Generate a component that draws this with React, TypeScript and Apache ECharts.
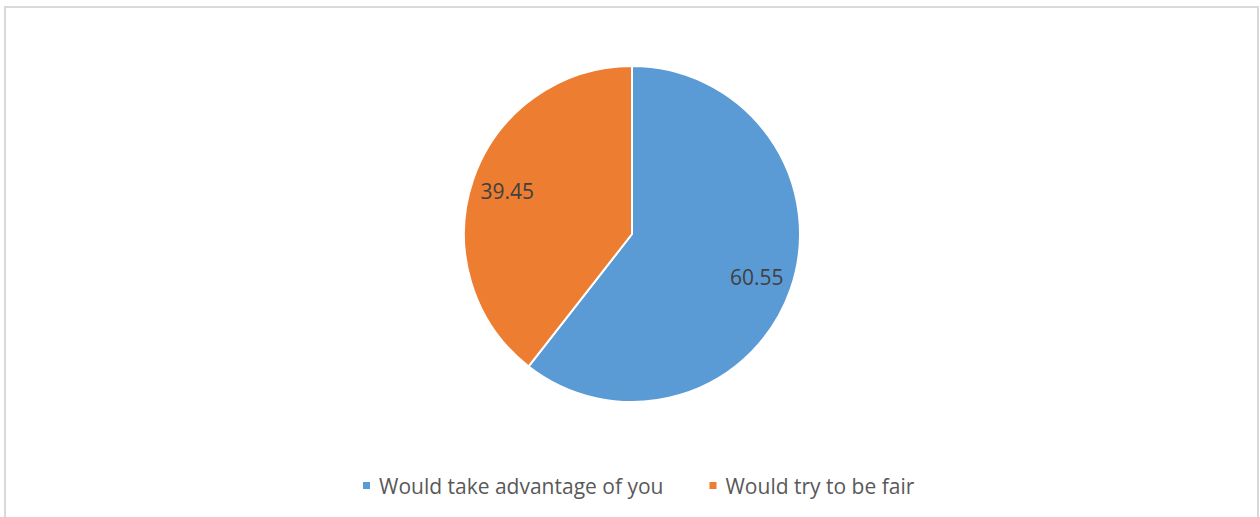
import React, { useEffect, useRef } from "react";
import * as echarts from "echarts";

const categories = ["Would take advantage of you", "Would try to be fair"];
const values = [60.55, 39.45];
const colors = ["#5B9BD5", "#ED7D31"];

export default function App() {
  const ref = useRef<HTMLDivElement>(null);
  useEffect(() => {
    if (!ref.current) return;
    const chart = echarts.init(ref.current, undefined, { renderer: "svg" });
    const data = categories.map((name, i) => ({
      name,
      value: values[i],
      itemStyle: { color: colors[i] },
    }));
    chart.setOption({
      animation: false,
      graphic: [
        {
          type: "rect",
          shape: { x: 5, y: 7, width: 1253, height: 540 },
          style: { fill: "none", stroke: "#D9D9D9", lineWidth: 2 },
          silent: true,
        },
      ],
      legend: {
        data: categories,
        left: 356,
        top: 470,
        icon: "rect",
        itemWidth: 9,
        itemHeight: 9,
        itemGap: 44,
        textStyle: {
          fontFamily: "Open Sans",
          fontSize: 21,
          color: "#595959",
          padding: [0, 0, 0, 3],
        },
      },
      series: [
        {
          type: "pie",
          center: [632, 234],
          radius: [0, 168],
          startAngle: 90,
          clockwise: true,
          label: { show: false },
          labelLine: { show: false },
          itemStyle: { borderColor: "#ffffff", borderWidth: 2 },
          emphasis: { disabled: true },
          data,
        },
        {
          type: "pie",
          center: [632, 234],
          radius: [90, 168],
          startAngle: 90,
          clockwise: true,
          silent: true,
          itemStyle: { color: "transparent", borderWidth: 0 },
          label: {
            show: true,
            position: "inside",
            formatter: (p: any) => p.value.toFixed(2),
            fontFamily: "Open Sans",
            fontSize: 21,
            color: "#404040",
          },
          labelLine: { show: false },
          emphasis: { disabled: true },
          data: categories.map((name, i) => ({
            name,
            value: values[i],
            itemStyle: { color: "transparent" },
          })),
        },
      ],
    });
    return () => chart.dispose();
  }, []);
  return (
    <div
      ref={ref}
      style={{ position: "absolute", left: 0, top: 0, width: 1260, height: 517 }}
    />
  );
}
